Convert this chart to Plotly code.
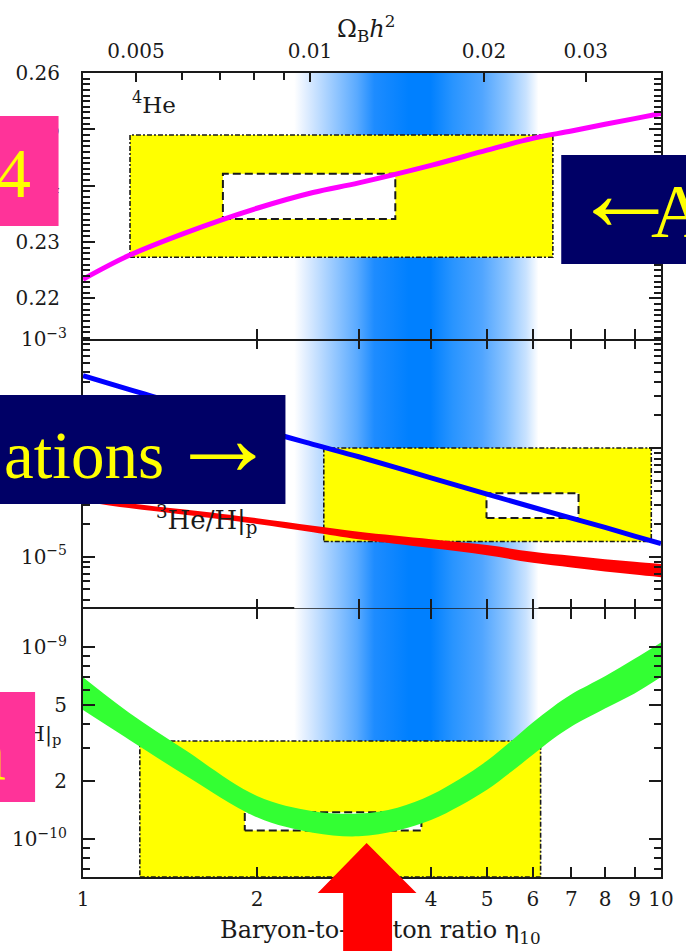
import math
import plotly.graph_objects as go

# ---------------------------------------------------------------------------
# BBN predictions versus the baryon-to-photon ratio eta_10
# ---------------------------------------------------------------------------
eta = [1.0, 1.2, 1.5, 2.0, 2.5, 3.0, 4.0, 5.0, 6.0, 7.0, 8.0, 9.0, 10.0]

# 4He mass fraction Y_p
he4_yp = [0.2234, 0.2276, 0.2316, 0.2360, 0.2388, 0.2405, 0.2436,
          0.2463, 0.2484, 0.2497, 0.2509, 0.2519, 0.2528]

# D/H
d_h = [4.62e-4, 3.45e-4, 2.44e-4, 1.51e-4, 1.08e-4, 8.3e-5, 5.31e-5,
       3.76e-5, 2.85e-5, 2.26e-5, 1.86e-5, 1.55e-5, 1.32e-5]

# 3He/H band (upper / lower)
he3_h_hi = [3.565e-5, 3.11e-5, 2.72e-5, 2.26e-5, 1.93e-5, 1.70e-5, 1.45e-5,
            1.28e-5, 1.11e-5, 1.02e-5, 9.48e-6, 9.0e-6, 8.57e-6]
he3_h_lo = [3.22e-5, 2.80e-5, 2.43e-5, 2.00e-5, 1.68e-5, 1.445e-5, 1.20e-5,
            1.03e-5, 8.79e-6, 7.96e-6, 7.30e-6, 6.85e-6, 6.47e-6]

# 7Li/H band (sampled on its own grid)
eta_li = [1.0, 1.2, 1.5, 2.0, 2.5, 3.0, 3.5, 4.0, 4.5, 5.0, 5.5, 6.0, 6.5, 7.0, 8.0, 9.0, 10.0]
li7_h_hi = [6.97e-10, 4.57e-10, 2.92e-10, 1.68e-10, 1.40e-10, 1.36e-10, 1.46e-10,
            1.70e-10, 2.07e-10, 2.56e-10, 3.24e-10, 4.06e-10, 4.89e-10, 5.69e-10,
            7.06e-10, 8.71e-10, 1.06e-9]
li7_h_lo = [4.71e-10, 3.31e-10, 2.16e-10, 1.30e-10, 1.08e-10, 1.035e-10, 1.11e-10,
            1.26e-10, 1.50e-10, 1.81e-10, 2.24e-10, 2.75e-10, 3.33e-10, 3.87e-10,
            4.80e-10, 5.75e-10, 7.00e-10]

# Observed abundance ranges: [low, high] in eta and in abundance
he4_box_eta, he4_box_val = [1.206, 6.50], [0.2273, 0.2490]
he4_inner_eta, he4_inner_val = [1.746, 3.47], [0.2341, 0.2421]
dh_box_eta, dh_box_val = [2.61, 9.62], [1.38e-5, 1.0e-4]
dh_inner_eta, dh_inner_val = [4.99, 7.20], [2.27e-5, 3.84e-5]
li_box_eta, li_box_top = [1.254, 6.19], 3.25e-10
li_inner_eta, li_inner_val = [1.905, 3.85], [1.11e-10, 1.38e-10]

# CMB band: colour profile across eta
band_eta = [2.32, 2.43, 2.68, 2.98, 3.19, 3.66, 3.99, 4.36, 4.90, 5.40, 5.84, 6.14]
band_color = ["#ffffff", "#e1eeff", "#a0cdff", "#5aaaff", "#1e8cff", "#0080ff",
              "#0080ff", "#2894ff", "#50a5ff", "#8cc4ff", "#c8e2ff", "#ffffff"]

# Axis ticks
eta_ticks = [1, 2, 3, 4, 5, 6, 7, 8, 9, 10]
omega_major = [0.005, 0.01, 0.02, 0.03]
omega_labels = ["0.005", "0.01", "0.02", "0.03"]
omega_minor = [0.006, 0.007, 0.008, 0.009]
ETA_PER_OMEGA = 247.0
yp_ticks = [0.22, 0.23, 0.24, 0.25, 0.26]

# ---------------------------------------------------------------------------
FIG_W, FIG_H = 686, 951
M_L, M_R, M_T, M_B = 77, 18, 73, 74
PLOT_W = FIG_W - M_L - M_R
PLOT_H = FIG_H - M_T - M_B


def px(xp):
    return (xp - M_L) / PLOT_W


def py(yp):
    return (FIG_H - M_B - yp) / PLOT_H


Y_HE4 = [0.21276, 0.26]
Y_DH = [-5.476, -3.0]
Y_LI = [-10.197, -8.798]

dom_bot = [0.0, py(608.5)]
dom_mid = [py(608.5), py(339.2)]
dom_top = [py(339.2), 1.0]

INK = "#1a1a1a"
SERIF = "DejaVu Serif"
TIMES = "Liberation Serif"

fig = go.Figure()

lo0 = math.log10(band_eta[0])
span = math.log10(band_eta[-1]) - lo0
band_scale = [[(math.log10(e) - lo0) / span, c] for e, c in zip(band_eta, band_color)]


def add_band(xa, ya, ylo, yhi):
    fig.add_trace(go.Scatter(
        x=[band_eta[0], band_eta[-1], band_eta[-1], band_eta[0], band_eta[0]],
        y=[ylo, ylo, yhi, yhi, ylo], mode="none", fill="toself",
        fillgradient=dict(type="horizontal", colorscale=band_scale),
        xaxis=xa, yaxis=ya, hoverinfo="skip", showlegend=False))


def add_box(xa, ya, ex, vy, fill, dash, width):
    fig.add_trace(go.Scatter(
        x=[ex[0], ex[1], ex[1], ex[0], ex[0]],
        y=[vy[0], vy[0], vy[1], vy[1], vy[0]],
        mode="lines", fill="toself", fillcolor=fill,
        line=dict(color=INK, width=width, dash=dash),
        xaxis=xa, yaxis=ya, hoverinfo="skip", showlegend=False))


def add_fill_band(xa, ya, xs, lo, hi, color):
    fig.add_trace(go.Scatter(x=xs, y=lo, mode="lines", line=dict(width=0, shape="spline"),
                             xaxis=xa, yaxis=ya, hoverinfo="skip", showlegend=False))
    fig.add_trace(go.Scatter(x=xs, y=hi, mode="lines", line=dict(width=0, shape="spline"),
                             fill="tonexty", fillcolor=color,
                             xaxis=xa, yaxis=ya, hoverinfo="skip", showlegend=False))


BOX_DASH = "5px,2px,2px,2px"
INNER_DASH = "8px,4px"

# top panel: 4He
add_band("x3", "y3", Y_HE4[0], Y_HE4[1])
add_box("x3", "y3", he4_box_eta, he4_box_val, "#ffff00", BOX_DASH, 1.6)
add_box("x3", "y3", he4_inner_eta, he4_inner_val, "#ffffff", INNER_DASH, 2)
fig.add_trace(go.Scatter(x=eta, y=he4_yp, mode="lines",
                         line=dict(color="#ff00ff", width=5, shape="spline"),
                         xaxis="x3", yaxis="y3", showlegend=False))

# middle panel: D and 3He
add_band("x2", "y2", 10 ** Y_DH[0], 10 ** Y_DH[1])
add_box("x2", "y2", dh_box_eta, dh_box_val, "#ffff00", BOX_DASH, 1.6)
add_box("x2", "y2", dh_inner_eta, dh_inner_val, "#ffffff", INNER_DASH, 2)
add_fill_band("x2", "y2", eta, he3_h_lo, he3_h_hi, "#ff0000")
fig.add_trace(go.Scatter(x=eta, y=d_h, mode="lines",
                         line=dict(color="#0000ff", width=5, shape="spline"),
                         xaxis="x2", yaxis="y2", showlegend=False))

# bottom panel: 7Li
add_band("x", "y", 10 ** Y_LI[0], 10 ** Y_LI[1])
add_box("x", "y", li_box_eta, [10 ** Y_LI[0], li_box_top], "#ffff00", BOX_DASH, 1.6)
add_box("x", "y", li_inner_eta, li_inner_val, "#ffffff", INNER_DASH, 2)
add_fill_band("x", "y", eta_li, li7_h_lo, li7_h_hi, "#33ff33")

# placeholder so the Omega_B h^2 axis gets drawn
fig.add_trace(go.Scatter(x=[], y=[], xaxis="x4", yaxis="y3", showlegend=False))

tick_font = dict(family=SERIF, size=20, color=INK)
base = dict(showline=True, linecolor=INK, linewidth=2, showgrid=False, zeroline=False,
            ticks="inside", tickcolor=INK, tickwidth=1.6)
minor_style = dict(ticks="inside", ticklen=7, tickcolor=INK, tickwidth=1.6)


def log_minor(lo, hi, skip=()):
    vals = []
    for n in range(math.floor(lo), math.ceil(hi) + 1):
        for k in range(2, 10):
            v = k * 10.0 ** n
            if lo <= math.log10(v) <= hi and k not in skip:
                vals.append(v)
    return vals


xcommon = dict(base, type="log", range=[0, 1], tickvals=eta_ticks, ticklen=10, domain=[0, 1])
fig.update_layout(
    width=FIG_W, height=FIG_H,
    margin=dict(l=M_L, r=M_R, t=M_T, b=M_B, pad=0),
    paper_bgcolor="white", plot_bgcolor="white",
    showlegend=False,
    # bottom panel frame (bottom + top edge, ticks on both)
    xaxis=dict(xcommon, anchor="y", mirror="ticks",
               ticktext=[str(v) for v in eta_ticks], tickfont=tick_font,
               ticklabelstandoff=3),
    # middle panel: ticks on both edges, edge lines come from the neighbours
    xaxis2=dict(xcommon, anchor="y2", mirror="ticks", linecolor="rgba(0,0,0,0)",
                showticklabels=False),
    xaxis3=dict(xcommon, anchor="y3", mirror=False, showticklabels=False),
    xaxis4=dict(base, type="log", range=[0, 1], overlaying="x3", anchor="y3", side="top",
                tickvals=[ETA_PER_OMEGA * w for w in omega_major], ticktext=omega_labels,
                ticklen=9, tickfont=tick_font, ticklabelstandoff=5,
                minor=dict(minor_style, tickvals=[ETA_PER_OMEGA * w for w in omega_minor])),
    yaxis=dict(base, type="log", range=Y_LI, domain=dom_bot, anchor="x", mirror="ticks",
               tickvals=[1e-10, 2e-10, 5e-10, 1e-9],
               ticktext=["10<sup>−10</sup>", "2", "5", "10<sup>−9</sup>"],
               ticklen=12, tickfont=tick_font, ticklabelstandoff=10,
               minor=dict(minor_style, tickvals=log_minor(Y_LI[0], Y_LI[1], skip=(2, 5)))),
    yaxis2=dict(base, type="log", range=Y_DH, domain=dom_mid, anchor="x2", mirror="ticks",
                tickvals=[1e-5, 1e-4, 1e-3],
                ticktext=["10<sup>−5</sup>", "10<sup>−4</sup>", "10<sup>−3</sup>"],
                ticklen=12, tickfont=tick_font, ticklabelstandoff=10,
                minor=dict(minor_style, tickvals=log_minor(Y_DH[0], Y_DH[1]))),
    yaxis3=dict(base, range=Y_HE4, domain=dom_top, anchor="x3", mirror="ticks",
                tickvals=yp_ticks, ticktext=[f"{v:.2f}" for v in yp_ticks],
                ticklen=12, tickfont=tick_font, ticklabelstandoff=17,
                minor=dict(minor_style, dtick=0.001, tick0=0.22)),
)

# axis title on top and panel labels
fig.add_annotation(xref="paper", yref="paper", x=px(366), y=py(29), xanchor="center",
                   yanchor="middle", showarrow=False,
                   text="Ω<sub>B</sub><i>h</i><sup>2</sup>",
                   font=dict(family=SERIF, size=24, color=INK))
fig.add_annotation(xref="paper", yref="paper", x=px(125), y=py(103), xanchor="left",
                   yanchor="middle", showarrow=False, text="<sup>4</sup>He",
                   font=dict(family=SERIF, size=23, color=INK))
fig.add_annotation(xref="paper", yref="paper", x=px(150), y=py(519), xanchor="left",
                   yanchor="middle", showarrow=False, text="<sup>3</sup>He/H|<sub>p</sub>",
                   font=dict(family=SERIF, size=26, color=INK))

shapes = []
# 7Li label (kept under the tag box)
shapes.append(dict(type="rect", xref="paper", yref="paper", x0=px(-120), x1=px(58),
                   y0=py(755), y1=py(715), line=dict(width=0), fillcolor="rgba(0,0,0,0)",
                   layer="above",
                   label=dict(text="<sup>7</sup>Li/H|<sub>p</sub>", textposition="middle right",
                              padding=0, font=dict(family=SERIF, size=21, color=INK))))
# x-axis title
shapes.append(dict(type="rect", xref="paper", yref="paper", x0=px(181), x1=px(581),
                   y0=py(945), y1=py(915), line=dict(width=0), fillcolor="rgba(0,0,0,0)",
                   layer="above",
                   label=dict(text="Baryon-to-photon ratio η<sub>10</sub>",
                              textposition="middle center", padding=0,
                              font=dict(family=SERIF, size=24, color=INK))))
# tag boxes
NAVY, PINK = "#000066", "#ff3399"
for x0, x1, y0, y1, col in [(566, 700, 155, 264, NAVY), (-10, 284, 395, 504, NAVY),
                            (-10, 52, 116, 226, PINK), (-10, 28, 692, 802, PINK)]:
    shapes.append(dict(type="rect", xref="paper", yref="paper", x0=px(x0), x1=px(x1),
                       y0=py(y1), y1=py(y0), line=dict(width=0), fillcolor=col,
                       layer="above"))
# red arrow
arrow = [(367, 843), (418, 893), (393, 893), (393, 960), (343, 960), (343, 893), (317, 893)]
path = "M " + " L ".join(f"{px(a):.5f},{py(b):.5f}" for a, b in arrow) + " Z"
shapes.append(dict(type="path", xref="paper", yref="paper", path=path,
                   fillcolor="#ff0000", line=dict(width=0), layer="above"))
fig.update_layout(shapes=shapes)

YEL = "#ffff00"


def tag_text(x, y, text, size, anchor="left"):
    fig.add_annotation(xref="paper", yref="paper", x=px(x), y=py(y), xanchor=anchor,
                       yanchor="middle", showarrow=False, text=text,
                       font=dict(family=TIMES, size=size, color=YEL))


tag_text(26, 173, "4", 70, anchor="right")
tag_text(574, 193, "←", 110)
tag_text(656, 211, "A", 76)
tag_text(-6, 455, "ations", 67)
tag_text(162, 438, "→", 110)
tag_text(0, 752, "n", 80, anchor="right")

fig.write_html("out.html")
